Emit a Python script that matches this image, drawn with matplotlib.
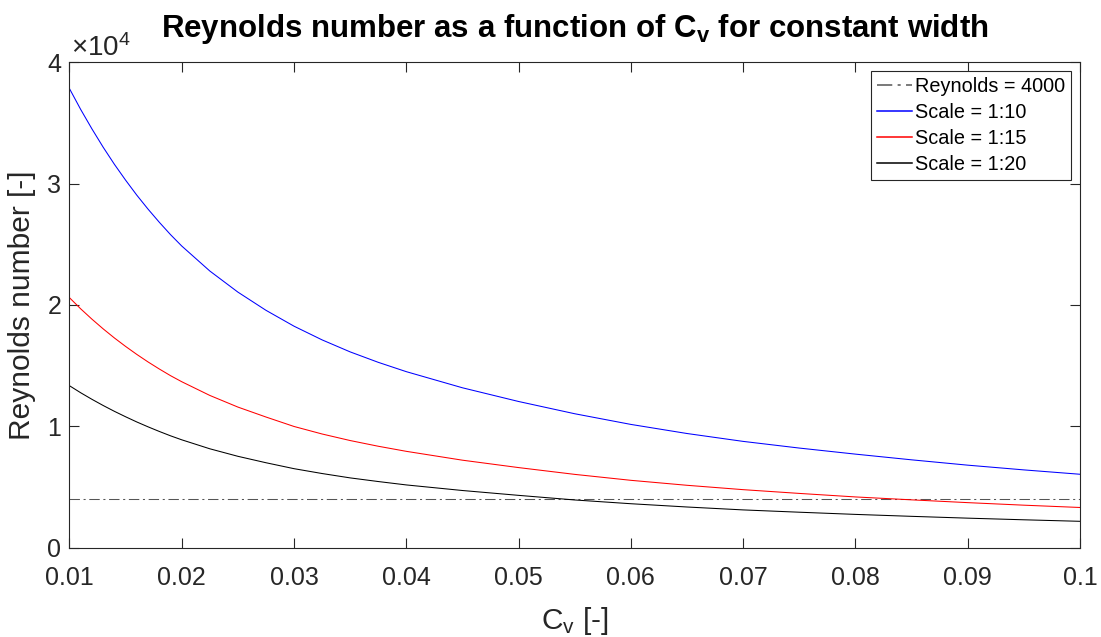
import numpy as np
import matplotlib
matplotlib.use("Agg")
import matplotlib.pyplot as plt
from matplotlib.ticker import FuncFormatter

plt.rcParams['font.family'] = ['Liberation Sans', 'DejaVu Sans']
plt.rcParams['mathtext.fontset'] = 'custom'
plt.rcParams['mathtext.rm'] = 'Liberation Sans'
plt.rcParams['mathtext.it'] = 'Liberation Sans'
plt.rcParams['mathtext.bf'] = 'Liberation Sans:bold'

# Volume concentration C_v [-]
cv = [0.010, 0.011, 0.012, 0.013, 0.014, 0.015, 0.016, 0.017, 0.018, 0.019, 0.020,
      0.0225, 0.025, 0.0275, 0.030, 0.0325, 0.035, 0.0375, 0.040,
      0.045, 0.050, 0.055, 0.060, 0.065, 0.070, 0.075, 0.080, 0.085, 0.090, 0.095, 0.100]

# Reynolds number per model scale
re_1_10 = [37840, 36120, 34520, 33010, 31600, 30290, 29050, 27900, 26820, 25800, 24860,
           22800, 21060, 19560, 18250, 17120, 16130, 15270, 14500,
           13170, 12040, 11030, 10150, 9400, 8750, 8200, 7700, 7230, 6790, 6400, 6040]
re_1_15 = [20600, 19680, 18830, 18030, 17280, 16580, 15920, 15300, 14720, 14170, 13670,
           12540, 11580, 10760, 9980, 9360, 8820, 8350, 7930,
           7200, 6590, 6030, 5540, 5130, 4770, 4460, 4170, 3930, 3700, 3490, 3300]
re_1_20 = [13340, 12760, 12220, 11710, 11230, 10780, 10350, 9950, 9570, 9210, 8880,
           8140, 7520, 6990, 6500, 6100, 5740, 5440, 5160,
           4700, 4300, 3920, 3610, 3340, 3100, 2910, 2730, 2570, 2420, 2285, 2160]

re_limit = 4000

xticks = [0.01, 0.02, 0.03, 0.04, 0.05, 0.06, 0.07, 0.08, 0.09, 0.1]
xticklabels = ['0.01', '0.02', '0.03', '0.04', '0.05', '0.06', '0.07', '0.08', '0.09', '0.1']
yticks = [0, 10000, 20000, 30000, 40000]

fig = plt.figure(figsize=(11.01, 6.37), dpi=100)
ax = fig.add_axes([0.0631, 0.1405, 0.9178, 0.7615])

ax.plot(cv, [re_limit] * len(cv), color='#555555', lw=0.75,
        linestyle=(0, (10, 3.5, 2, 3.5)), label='Reynolds = 4000')
ax.plot(cv, re_1_10, color='#0000ff', lw=0.75, label='Scale = 1:10')
ax.plot(cv, re_1_15, color='#ff0000', lw=0.75, label='Scale = 1:15')
ax.plot(cv, re_1_20, color='#000000', lw=0.75, label='Scale = 1:20')

ax.set_xlim(0.01, 0.1)
ax.set_ylim(0, 40000)
ax.set_xticks(xticks)
ax.set_xticklabels(xticklabels)
ax.set_yticks(yticks)
ax.yaxis.set_major_formatter(FuncFormatter(lambda v, p: '%g' % (v / 1e4)))
ax.text(0.002, 1.0, r'$\times 10^{4}$', transform=ax.transAxes, fontsize=20,
        color='#262626', ha='left', va='bottom')

ax.tick_params(direction='in', length=7.5, width=0.8, top=True, right=True,
               labelsize=18, colors='#262626')
ax.tick_params(axis='x', pad=13)
ax.tick_params(axis='y', pad=6)
for s in ax.spines.values():
    s.set_color('#262626')
    s.set_linewidth(0.8)

ax.set_xlabel('C$_\\mathrm{v}$ [-]', fontsize=21.5, color='#262626', labelpad=11)
ax.set_ylabel('Reynolds number [-]', fontsize=21.5, color='#262626', labelpad=8)
ax.set_title('Reynolds number as a function of C$_\\mathbf{v}$ for constant width',
             fontsize=22.5, fontweight='bold', pad=18)

leg = ax.legend(loc='upper right', fontsize=14.3, frameon=True, fancybox=False,
                edgecolor='#262626', framealpha=1, handlelength=1.75,
                handletextpad=0.15, borderpad=0.3, labelspacing=0.34,
                borderaxespad=0.45)
leg.get_frame().set_linewidth(0.8)
for line in leg.get_lines():
    line.set_linewidth(1.1)

fig.savefig('out.png', dpi=100)
